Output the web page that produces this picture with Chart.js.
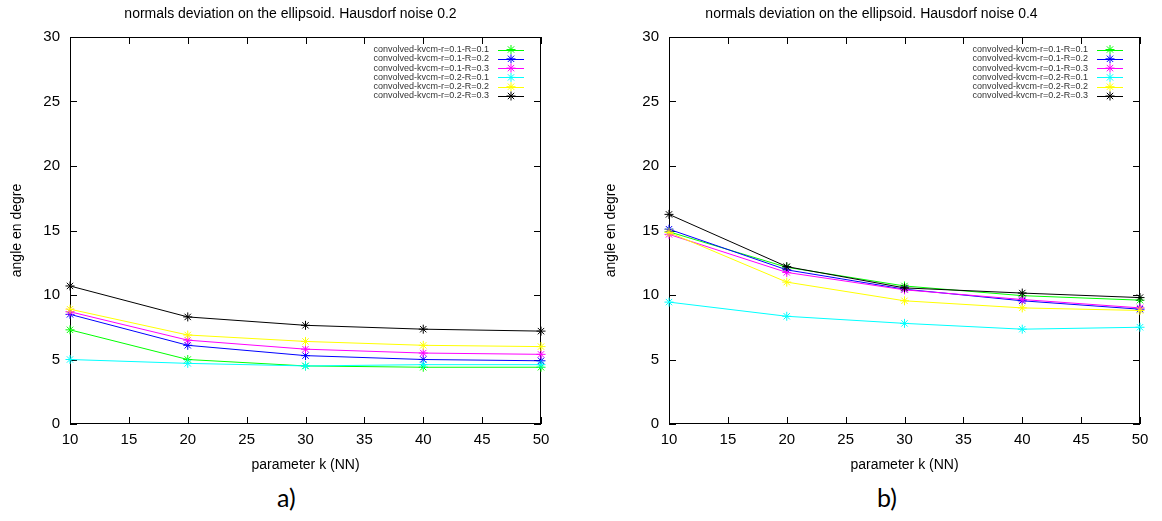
<!DOCTYPE html>
<html>
<head>
<meta charset="utf-8">
<script src="https://cdn.jsdelivr.net/npm/chart.js@4/dist/chart.umd.min.js"></script>
<style>
  body { margin: 0; background: #fff; }
  #page { position: relative; width: 1162px; height: 521px; overflow: hidden; }
  canvas { position: absolute; top: 0; }
  .tag { position: absolute; top: 482px; font-family: Lato, sans-serif; font-size: 25px; color: #000; }
</style>
</head>
<body>
<div id="page">
  <canvas id="chartA" width="581" height="482" style="left:0"></canvas>
  <canvas id="chartB" width="581" height="482" style="left:581px"></canvas>
  <div class="tag" style="left:277px">a)</div>
  <div class="tag" style="left:877px">b)</div>
</div>
<script>
// x values (number of neighbours)
const kValues = [10, 20, 30, 40, 50];

const seriesLabels = [
    'convolved-kvcm-r=0.1-R=0.1',
    'convolved-kvcm-r=0.1-R=0.2',
    'convolved-kvcm-r=0.1-R=0.3',
    'convolved-kvcm-r=0.2-R=0.1',
    'convolved-kvcm-r=0.2-R=0.2',
    'convolved-kvcm-r=0.2-R=0.3'
];
const seriesColors = ['#00ff00', '#0000ff', '#ff00ff', '#00ffff', '#ffff00', '#000000'];

// a) Hausdorf noise 0.2
const a_r01_R01 = [7.3, 5.0, 4.5, 4.4, 4.4];
const a_r01_R02 = [8.5, 6.1, 5.3, 5.0, 4.9];
const a_r01_R03 = [8.7, 6.5, 5.8, 5.5, 5.4];
const a_r02_R01 = [5.0, 4.7, 4.5, 4.6, 4.6];
const a_r02_R02 = [8.9, 6.9, 6.4, 6.1, 6.0];
const a_r02_R03 = [10.7, 8.3, 7.65, 7.35, 7.2];

// b) Hausdorf noise 0.4
const b_r01_R01 = [14.9, 12.15, 10.7, 9.95, 9.6];
const b_r01_R02 = [15.1, 11.95, 10.45, 9.55, 8.9];
const b_r01_R03 = [14.7, 11.75, 10.4, 9.65, 9.0];
const b_r02_R01 = [9.45, 8.35, 7.8, 7.35, 7.5];
const b_r02_R02 = [14.85, 11.0, 9.55, 9.0, 8.8];
const b_r02_R03 = [16.25, 12.2, 10.55, 10.15, 9.8];

const FONT = '"Liberation Sans", Arial, sans-serif';

// draw a gnuplot style asterisk
function drawStar(ctx, x, y, r) {
    const d = r * Math.SQRT1_2;
    ctx.beginPath();
    ctx.moveTo(x - r, y); ctx.lineTo(x + r, y);
    ctx.moveTo(x, y - r); ctx.lineTo(x, y + r);
    ctx.moveTo(x - d, y - d); ctx.lineTo(x + d, y + d);
    ctx.moveTo(x - d, y + d); ctx.lineTo(x + d, y - d);
    ctx.stroke();
}

// frame, inward ticks, title and legend the way gnuplot does it
const gnuplotFrame = {
    id: 'gnuplotFrame',
    beforeDatasetsDraw(chart) {
        const ctx = chart.ctx;
        const a = chart.chartArea;
        const tl = 7;
        ctx.save();
        ctx.strokeStyle = '#000';
        ctx.lineWidth = 1;
        ctx.strokeRect(a.left + 0.5, a.top + 0.5, a.right - a.left - 1, a.bottom - a.top - 1);
        ctx.beginPath();
        chart.scales.x.ticks.forEach(t => {
            const px = Math.round(chart.scales.x.getPixelForValue(t.value)) + 0.5;
            ctx.moveTo(px, a.bottom); ctx.lineTo(px, a.bottom - tl);
            ctx.moveTo(px, a.top); ctx.lineTo(px, a.top + tl);
        });
        chart.scales.y.ticks.forEach(t => {
            const py = Math.round(chart.scales.y.getPixelForValue(t.value)) + 0.5;
            ctx.moveTo(a.left, py); ctx.lineTo(a.left + tl, py);
            ctx.moveTo(a.right, py); ctx.lineTo(a.right - tl, py);
        });
        ctx.stroke();
        ctx.restore();
    },
    afterDraw(chart, args, opts) {
        const ctx = chart.ctx;
        const a = chart.chartArea;
        ctx.save();
        ctx.fillStyle = '#000';
        ctx.font = '14px ' + FONT;
        ctx.textAlign = 'center';
        ctx.textBaseline = 'middle';
        ctx.fillText(opts.title, chart.width / 2, 14);

        // legend
        ctx.font = '9px ' + FONT;
        ctx.textAlign = 'right';
        chart.data.datasets.forEach((ds, i) => {
            const y = a.top + 12.5 + i * 9.3;
            ctx.fillStyle = '#333';
            ctx.fillText(ds.label, a.right - 52, y);
            ctx.strokeStyle = ds.borderColor;
            ctx.lineWidth = 1;
            ctx.beginPath();
            ctx.moveTo(a.right - 43, Math.round(y) + 0.5);
            ctx.lineTo(a.right - 17, Math.round(y) + 0.5);
            ctx.stroke();
            drawStar(ctx, a.right - 30, y, 4.5);
        });
        ctx.restore();
    }
};

function makeChart(canvasId, title, seriesData, yAxisWidth, padRight, yTitlePad) {
    const ctx = document.getElementById(canvasId).getContext('2d');
    const datasets = seriesData.map((values, i) => ({
        label: seriesLabels[i],
        data: values.map((v, j) => ({ x: kValues[j], y: v })),
        borderColor: seriesColors[i],
        backgroundColor: seriesColors[i],
        borderWidth: 1,
        pointStyle: 'star',
        pointRadius: 4.5,
        pointBorderWidth: 1,
        order: seriesData.length - i,
        clip: false
    }));

    return new Chart(ctx, {
        type: 'line',
        data: { datasets: datasets },
        options: {
            responsive: false,
            animation: false,
            devicePixelRatio: 1,
            layout: { padding: { top: 37, left: 0, right: padRight, bottom: 0 } },
            plugins: {
                legend: { display: false },
                tooltip: { enabled: false },
                gnuplotFrame: { title: title }
            },
            scales: {
                x: {
                    type: 'linear',
                    min: 10,
                    max: 50,
                    ticks: { stepSize: 5, padding: 7, color: '#000', font: { family: FONT, size: 15 } },
                    grid: { display: false, drawTicks: false },
                    border: { display: false },
                    title: {
                        display: true,
                        text: 'parameter k (NN)',
                        color: '#000',
                        font: { family: FONT, size: 14 },
                        padding: { top: 4, bottom: 8 }
                    },
                    afterFit: scale => { scale.height = 58; }
                },
                y: {
                    min: 0,
                    max: 30,
                    ticks: { stepSize: 5, padding: 10, color: '#000', font: { family: FONT, size: 15 } },
                    grid: { display: false, drawTicks: false },
                    border: { display: false },
                    title: {
                        display: true,
                        text: 'angle en degre',
                        color: '#000',
                        font: { family: FONT, size: 14 },
                        padding: { top: yTitlePad, bottom: 0 }
                    },
                    afterFit: scale => { scale.width = yAxisWidth; }
                }
            }
        },
        plugins: [gnuplotFrame]
    });
}

makeChart('chartA', 'normals deviation on the ellipsoid. Hausdorf noise 0.2',
    [a_r01_R01, a_r01_R02, a_r01_R03, a_r02_R01, a_r02_R02, a_r02_R03], 70, 40, 9);
makeChart('chartB', 'normals deviation on the ellipsoid. Hausdorf noise 0.4',
    [b_r01_R01, b_r01_R02, b_r01_R03, b_r02_R01, b_r02_R02, b_r02_R03], 88, 22, 22);
</script>
</body>
</html>
